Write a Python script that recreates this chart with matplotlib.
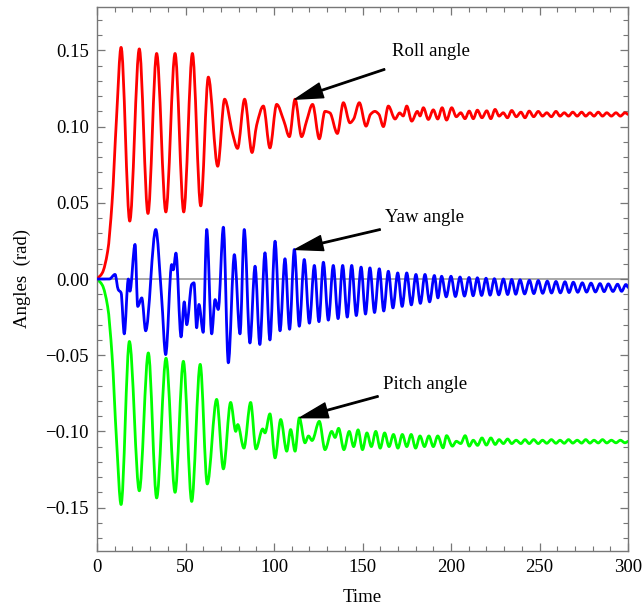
import matplotlib
matplotlib.use("Agg")
import matplotlib.pyplot as plt
from matplotlib.path import Path
from matplotlib.patches import PathPatch
from matplotlib.ticker import MultipleLocator, FuncFormatter

plt.rcParams['font.family'] = ['Liberation Serif', 'DejaVu Serif']

# extrema / turning points: (time, angle in rad)
roll_t = [0, 3, 6, 8.5, 11, 13.6, 18.5, 23.9, 28.8, 33.7, 38.9, 44.1, 49.0, 53.9, 58.6,
          62.9, 68.2, 72.1, 76.6, 79.4, 83.4, 87.6, 90.2, 94.0, 97.7, 101.5, 105.6, 108.7,
          111.9, 115.6, 118.4, 121.8, 125.6, 128.8, 131.6, 135.8, 139.2, 142.9, 145.0, 148.2,
          152.0, 154.5, 157.0, 159.3, 161.8, 164.6, 168.4, 171.0, 173.0, 175.0, 177.8, 181.0,
          182.5, 184.4, 187.2, 190.0, 192.5, 195.0, 197.5, 200.4, 203.0, 205.5, 207.9, 210.3,
          212.6, 214.9, 217.5, 220.2, 222.5, 224.9, 227.2, 229.5, 231.9, 234.3, 236.9, 239.5,
          241.8, 244.2, 246.7, 249.3, 251.7, 254.1, 256.7, 259.3, 261.6, 264.0, 266.4, 268.8,
          271.3, 273.8, 276.1, 278.5, 280.8, 283.2, 285.6, 288.0, 290.6, 293.2, 295.7, 298.3, 300]
roll_v = [0, 0.004, 0.018, 0.05, 0.105, 0.152, 0.038, 0.151, 0.043, 0.148, 0.044, 0.148, 0.044, 0.148, 0.048,
          0.1325, 0.074, 0.118, 0.0955, 0.0857, 0.118, 0.083, 0.101, 0.1135, 0.086, 0.1146, 0.1036, 0.0934,
          0.118, 0.0934, 0.1036, 0.1146, 0.092, 0.110, 0.109, 0.0955, 0.1157, 0.1025, 0.105, 0.1157,
          0.1003, 0.108, 0.110, 0.108, 0.100, 0.1135, 0.105, 0.109, 0.107, 0.1135, 0.1036, 0.110,
          0.107, 0.1124, 0.1047, 0.111, 0.105, 0.1124, 0.1043, 0.1124, 0.1065, 0.1091, 0.1052, 0.1102,
          0.1052, 0.1108, 0.1058, 0.1104, 0.1052, 0.1113, 0.1069, 0.1091, 0.1058, 0.1106, 0.1065, 0.1095,
          0.1058, 0.1102, 0.1065, 0.110, 0.1069, 0.1091, 0.1065, 0.110, 0.1069, 0.1091, 0.1069, 0.1095,
          0.1069, 0.1095, 0.1069, 0.1091, 0.1069, 0.1095, 0.1069, 0.1091, 0.1069, 0.1091, 0.1069, 0.1091, 0.108]

yaw_t = [0, 7, 10.2, 12, 13.6, 15.4, 17.7, 18.6, 21.5, 23, 25.3, 27.5, 33.2, 36.5, 38.8, 42.2,
         43.1, 44.6, 47.5, 49.3, 50.7, 53.5, 54.8, 56.3, 57.6, 60, 62, 64.8, 66.7, 68.5, 71.4,
         74.2, 77.6, 80.8, 83.2, 86.4, 89.3, 92, 94.9, 97.7, 100.6, 103.4, 106.2, 108.8, 111.5,
         114.3, 117.1, 120.0, 122.8, 125.4, 127.9, 130.7, 133.5, 136.2, 138.8, 141.4, 143.9,
         146.5, 149.2, 151.7, 154.2, 156.8, 159.5, 162.0, 164.6, 167.2, 169.9, 172.4, 175.0,
         177.6, 180.2, 182.7, 185.3, 187.9, 190.6, 192.6, 194.7, 197.3, 200.0, 202.5, 205.1,
         207.6, 210.2, 212.5, 214.9, 217.3, 219.8, 222.1, 224.5, 227.0, 229.6, 232.0, 234.3,
         236.6, 239.0, 241.6, 244.3, 246.8, 249.3, 251.8, 254.4, 256.8, 259.3, 261.8, 264.4,
         266.7, 269.1, 271.6, 274.2, 276.6, 279.1, 281.6, 284.2, 286.5, 288.9, 291.5, 294.1,
         296.4, 298.8, 300]
yaw_v = [0, 0, 0.003, -0.007, -0.009, -0.036, 0.0, -0.008, 0.0227, -0.018, -0.0124, -0.034, 0.0325, -0.012, -0.0496, 0.0095,
         0.006, 0.017, -0.038, -0.015, -0.030, -0.0036, -0.0025, -0.032, -0.0167, -0.035, 0.0325, -0.036, -0.0135, -0.02, 0.034,
         -0.055, 0.016, -0.036, 0.0325, -0.042, 0.0084, -0.043, 0.0172, -0.040, 0.0248, -0.034, 0.0133, -0.033, 0.0194,
         -0.031, 0.0128, -0.029, 0.0089, -0.028, 0.011, -0.027, 0.0089, -0.026, 0.0089, -0.025, 0.0089,
         -0.024, 0.0078, -0.023, 0.0073, -0.022, 0.0067, -0.021, 0.0051, -0.019, 0.004, -0.018, 0.004,
         -0.017, 0.003, -0.016, 0.003, -0.015, 0.0023, -0.0124, 0.0018, -0.0117, 0.0018, -0.0115, 0.0013,
         -0.0112, 0.0010, -0.0110, 0.0008, -0.0108, 0.0005, -0.0106, 0.0002, -0.0104, 0.0, -0.0102, -0.0003,
         -0.0100, -0.0005, -0.0098, -0.0008, -0.0096, -0.0010, -0.0094, -0.0014, -0.0092, -0.0016, -0.0091, -0.0018,
         -0.0089, -0.0021, -0.0087, -0.0025, -0.0086, -0.0027, -0.0085, -0.0030, -0.0083, -0.0032, -0.0082, -0.0034,
         -0.0081, -0.0036, -0.0055]

pitch_t = [0, 3, 6, 8.5, 11, 13.6, 18.3, 23.9, 29.0, 33.7, 39.0, 44.1, 48.8, 53.5, 58.3,
           62.3, 67.6, 71.4, 75.5, 78.4, 79.5, 83.0, 86.8, 89.8, 93.6, 94.9, 97.7, 100.6, 103.8,
           107.2, 109.4, 111.9, 114.3, 117.5, 119.5, 121.5, 125.6, 128.8, 132.6, 134.5, 136.5,
           139.5, 142.5, 145.0, 147.5, 150.0, 152.5, 155.0, 157.5, 160.0, 162.5, 165.0, 167.5,
           170.0, 172.5, 175.0, 177.5, 180.0, 182.5, 185.0, 187.5, 190.0, 192.5, 195.5, 197.5,
           200.8, 203.0, 205.5, 208.0, 210.3, 212.6, 215.0, 217.5, 220.0, 222.5, 225.0, 227.2,
           229.6, 232.0, 234.3, 236.8, 239.5, 241.8, 244.2, 246.7, 249.3, 251.7, 254.1, 256.7,
           259.3, 261.6, 264.0, 266.4, 268.8, 271.3, 273.8, 276.1, 278.5, 280.8, 283.2, 285.6,
           288.0, 290.6, 293.2, 295.7, 298.3, 300]
pitch_v = [0, -0.004, -0.018, -0.05, -0.105, -0.148, -0.041, -0.139, -0.0485, -0.1437, -0.052, -0.140, -0.054, -0.146, -0.056,
           -0.1345, -0.079, -0.1246, -0.081, -0.100, -0.0955, -0.111, -0.081, -0.1115, -0.0984, -0.101, -0.0885, -0.1174, -0.0922,
           -0.113, -0.0988, -0.113, -0.0911, -0.1075, -0.103, -0.106, -0.0934, -0.112, -0.100, -0.104, -0.098,
           -0.112, -0.100, -0.110, -0.099, -0.112, -0.101, -0.110, -0.100, -0.111, -0.101, -0.110, -0.102,
           -0.111, -0.102, -0.110, -0.102, -0.111, -0.103, -0.110, -0.103, -0.110, -0.103, -0.1108, -0.1028,
           -0.1097, -0.1065, -0.1080, -0.1028, -0.1097, -0.1058, -0.1092, -0.1043, -0.1090, -0.1043, -0.1086, -0.1054,
           -0.1080, -0.1050, -0.1080, -0.1058, -0.1080, -0.1054, -0.1080, -0.1054, -0.1080, -0.1058, -0.1078, -0.1054,
           -0.1078, -0.1058, -0.1078, -0.1054, -0.1077, -0.1058, -0.1077, -0.1054, -0.1077, -0.1058, -0.1076, -0.1054,
           -0.1076, -0.1058, -0.1075, -0.1058, -0.1075, -0.1065]


def smooth_path(xs, ys):
    # cubic Bezier through the points, flat at turning points (monotone style)
    n = len(xs)
    sec = [(ys[i + 1] - ys[i]) / (xs[i + 1] - xs[i]) for i in range(n - 1)]
    m = [sec[0]]
    for i in range(1, n - 1):
        a, b = sec[i - 1], sec[i]
        m.append(0.0 if a * b <= 0 else 2 * a * b / (a + b))
    m.append(sec[-1])
    verts = [(xs[0], ys[0])]
    codes = [Path.MOVETO]
    for i in range(n - 1):
        h = xs[i + 1] - xs[i]
        verts += [(xs[i] + h / 3, ys[i] + m[i] * h / 3),
                  (xs[i + 1] - h / 3, ys[i + 1] - m[i + 1] * h / 3),
                  (xs[i + 1], ys[i + 1])]
        codes += [Path.CURVE4] * 3
    return Path(verts, codes)


fig = plt.figure(figsize=(6.43, 6.14), dpi=100)
ax = fig.add_axes([97 / 643, 1 - 551 / 614, 531 / 643, 544 / 614])

ax.axhline(0, color='#999999', lw=1.2, zorder=1)
for t, v, c, z in [(roll_t, roll_v, '#ff0000', 3), (yaw_t, yaw_v, '#0000ff', 3),
                   (pitch_t, pitch_v, '#00ff00', 2)]:
    ax.add_patch(PathPatch(smooth_path(t, v), facecolor='none', edgecolor=c,
                           lw=2.0, zorder=z, capstyle='round', joinstyle='round'))

ax.set_xlim(0, 300)
ax.set_ylim(-0.1785, 0.1785)
ax.xaxis.set_major_locator(MultipleLocator(50))
ax.xaxis.set_minor_locator(MultipleLocator(10))
ax.yaxis.set_major_locator(MultipleLocator(0.05))
ax.yaxis.set_minor_locator(MultipleLocator(0.01))
ax.yaxis.set_major_formatter(FuncFormatter(
    lambda v, p: ('\u2212' if v < -1e-9 else '') + '%.2f' % abs(v)))
ax.tick_params(which='both', direction='in', top=True, right=True, color='#777777',
               labelsize=13.5, pad=6)
ax.tick_params(which='major', length=6, width=0.9)
ax.tick_params(which='minor', length=3.5, width=0.8)
for s in ax.spines.values():
    s.set_color('#777777')
    s.set_linewidth(1.0)

ax.set_xlabel('Time', fontsize=13.5, labelpad=9)
ax.set_ylabel('Angles  (rad)', fontsize=13.5, labelpad=10)

arrow = dict(facecolor='black', edgecolor='black', width=1.0, headwidth=11, headlength=20, shrink=0)
ax.annotate('', xy=(111.9, 0.118), xytext=(162.5, 0.1376), arrowprops=arrow)
ax.annotate('', xy=(111.9, 0.0194), xytext=(160.0, 0.0325), arrowprops=arrow)
ax.annotate('', xy=(114.7, -0.091), xytext=(158.8, -0.077), arrowprops=arrow)
ax.text(166.5, 0.1495, 'Roll angle', fontsize=13.5, va='center', ha='left')
ax.text(162.7, 0.0404, 'Yaw angle', fontsize=13.5, va='center', ha='left')
ax.text(161.6, -0.0693, 'Pitch angle', fontsize=13.5, va='center', ha='left')

fig.savefig('out.png', dpi=100)
